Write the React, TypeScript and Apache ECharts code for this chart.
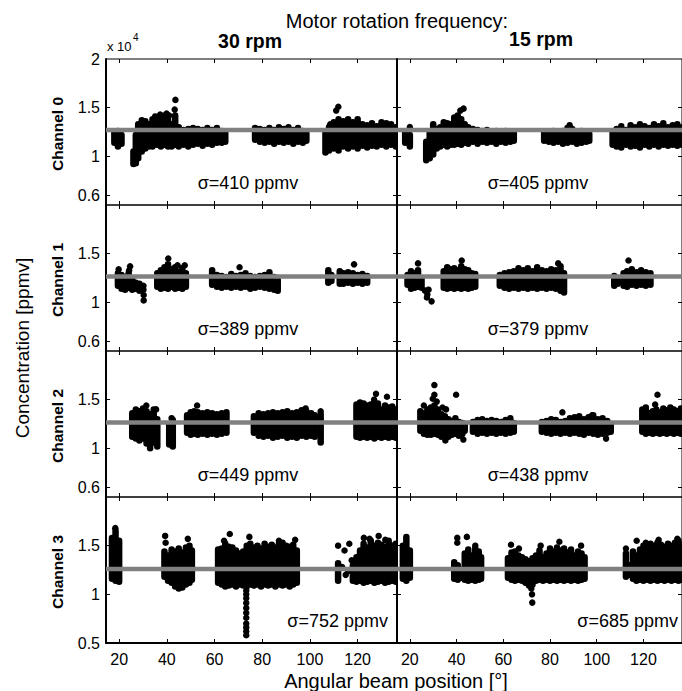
import React, { useEffect, useRef } from 'react';
import * as echarts from 'echarts';

// ---- axes ----
const X_MIN = 14.5;
const X_MAX = 136.5;
const Y_MIN = 0.5;
const Y_MAX = 2;
const X_TICKS = [20, 40, 60, 80, 100, 120];
const Y_LABELS_TOP = [0.6, 1, 1.5, 2];
const Y_LABELS_MID = [0.6, 1, 1.5];
const Y_LABELS_BOT = [0.5, 1, 1.5];
const Y_TICKS_MID = [0.6, 1, 1.5];
const Y_TICKS_BOT = [1, 1.5];

const CHANNELS = ['Channel 0', 'Channel 1', 'Channel 2', 'Channel 3'];
const SPEEDS = ['30 rpm', '15 rpm'];
const MEAN = [1.27, 1.265, 1.265, 1.26]; // x 10^4 ppmv
const SIGMA_30 = [410, 389, 449, 752];
const SIGMA_15 = [405, 379, 438, 685];

// ---- data: [angle, min conc., max conc.] spans of the dense point clouds, x 10^4 ppmv ----
const CH0_30_BANDS = [
  [18, 1.14, 1.25], [19.5, 1.1, 1.26], [21, 1.13, 1.22],
  [26, 0.92, 1.05], [27, 0.93, 1.22], [28, 0.98, 1.33], [29.5, 1.05, 1.37], [31, 1.08, 1.36], [32.5, 1.1, 1.33],
  [34, 1.1, 1.38], [36, 1.12, 1.36], [37.5, 1.1, 1.4], [39, 1.12, 1.42], [40.5, 1.1, 1.38], [42, 1.1, 1.33],
  [43.5, 1.12, 1.42], [45, 1.1, 1.3], [47, 1.12, 1.27], [49, 1.1, 1.28], [51, 1.12, 1.29], [53, 1.13, 1.28],
  [55, 1.11, 1.27], [57, 1.13, 1.29], [59, 1.12, 1.27], [61, 1.14, 1.29], [63, 1.14, 1.26], [64.5, 1.15, 1.24],
  [77, 1.17, 1.29], [79, 1.15, 1.28], [81, 1.14, 1.27], [83, 1.15, 1.29], [85, 1.13, 1.27], [87, 1.15, 1.3],
  [89, 1.14, 1.28], [91, 1.15, 1.3], [93, 1.13, 1.27], [95, 1.15, 1.29], [97, 1.14, 1.26], [98.5, 1.16, 1.24],
  [106.5, 1.04, 1.25], [108, 1.06, 1.3], [110, 1.08, 1.35], [112, 1.06, 1.38], [114, 1.1, 1.36], [116, 1.08, 1.38],
  [118, 1.1, 1.35], [120, 1.08, 1.38], [122, 1.11, 1.33], [124, 1.09, 1.32], [126, 1.11, 1.34], [128, 1.1, 1.31],
  [130, 1.12, 1.35], [132, 1.1, 1.34], [134, 1.12, 1.33], [136, 1.1, 1.3],
];
const CH0_30_PTS = [
  [43.6, 1.58], [43.3, 1.48], [37.2, 1.43], [41, 1.42], [35.1, 1.41], [39.9, 1.44],
  [111.9, 1.51], [111, 1.47], [108.5, 1.33],
];

const CH0_15_BANDS = [
  [18, 1.14, 1.25], [20, 1.1, 1.22],
  [27, 0.96, 1.15], [28.5, 0.98, 1.24], [30, 1.02, 1.33], [31.5, 1.08, 1.28], [33, 1.1, 1.3], [34.5, 1.12, 1.35],
  [36, 1.1, 1.34], [37.5, 1.12, 1.33], [39, 1.12, 1.4], [40.5, 1.13, 1.42], [42, 1.12, 1.38], [43.5, 1.14, 1.33],
  [45, 1.13, 1.3], [47, 1.15, 1.28], [49, 1.13, 1.27], [51, 1.15, 1.26], [53, 1.14, 1.27], [55, 1.15, 1.25],
  [57, 1.13, 1.26], [59, 1.15, 1.25], [61, 1.14, 1.26], [63, 1.15, 1.25], [64.5, 1.16, 1.24],
  [77.5, 1.16, 1.25], [79.5, 1.15, 1.24], [81.5, 1.14, 1.26], [83.5, 1.15, 1.25], [85.5, 1.13, 1.26],
  [87.5, 1.14, 1.29], [89.5, 1.15, 1.28], [91.5, 1.13, 1.25], [93.5, 1.14, 1.26], [95.5, 1.15, 1.24], [96.8, 1.16, 1.23],
  [106.8, 1.12, 1.25], [108.5, 1.1, 1.28], [110.5, 1.09, 1.31], [112.5, 1.12, 1.27], [114.5, 1.1, 1.32],
  [116.5, 1.11, 1.3], [118.5, 1.09, 1.33], [120.5, 1.12, 1.31], [122.5, 1.1, 1.29], [124.5, 1.12, 1.33],
  [126.5, 1.1, 1.31], [128.5, 1.12, 1.34], [130.5, 1.11, 1.3], [132.5, 1.12, 1.32], [134.5, 1.11, 1.33], [136.5, 1.12, 1.3],
];
const CH0_15_PTS = [[20, 1.3], [43, 1.49], [41.6, 1.47], [88.4, 1.32]];

const CH1_30_BANDS = [
  [19.5, 1.17, 1.3], [21, 1.14, 1.28], [22.5, 1.13, 1.26], [24, 1.15, 1.3], [25.5, 1.13, 1.24], [27, 1.14, 1.2], [28.5, 1.12, 1.19],
  [36, 1.16, 1.3], [37.5, 1.14, 1.33], [39, 1.15, 1.36], [40.5, 1.14, 1.39], [42, 1.16, 1.34], [43.5, 1.14, 1.36],
  [45, 1.15, 1.31], [46.5, 1.14, 1.35], [48, 1.16, 1.3],
  [59, 1.18, 1.33], [61, 1.16, 1.28], [63, 1.15, 1.27], [65, 1.16, 1.26], [67, 1.15, 1.29], [69, 1.16, 1.27],
  [71, 1.15, 1.28], [73, 1.16, 1.3], [75, 1.14, 1.27], [77, 1.15, 1.26], [79, 1.16, 1.27], [81, 1.15, 1.28],
  [83, 1.14, 1.31], [85, 1.13, 1.26], [86.5, 1.12, 1.23],
  [107.7, 1.2, 1.33], [109, 1.22, 1.28], [112.5, 1.19, 1.32], [114, 1.19, 1.3], [116, 1.2, 1.31], [118, 1.19, 1.3],
  [120, 1.2, 1.28], [122, 1.19, 1.29], [124, 1.2, 1.27],
];
const CH1_30_PTS = [
  [19.8, 1.34], [24.6, 1.37], [24.2, 1.33], [30.2, 1.17], [30.2, 1.13], [30.3, 1.075], [30.3, 1.02],
  [40.6, 1.45], [44.5, 1.38], [47.5, 1.38], [70.5, 1.36], [118.5, 1.39],
];

const CH1_15_BANDS = [
  [19, 1.18, 1.28], [20.5, 1.14, 1.32], [22, 1.15, 1.3], [23.5, 1.16, 1.33], [25, 1.15, 1.24],
  [34.5, 1.15, 1.32], [36, 1.14, 1.36], [37.5, 1.15, 1.34], [39, 1.14, 1.35], [40.5, 1.15, 1.33], [42, 1.14, 1.37],
  [43.5, 1.15, 1.34], [45, 1.14, 1.33], [46.5, 1.15, 1.3], [48, 1.16, 1.29],
  [58.5, 1.17, 1.28], [60.5, 1.15, 1.3], [62.5, 1.14, 1.31], [64.5, 1.15, 1.32], [66.5, 1.14, 1.35], [68.5, 1.15, 1.33],
  [70.5, 1.14, 1.35], [72.5, 1.15, 1.32], [74.5, 1.14, 1.36], [76.5, 1.15, 1.33], [78.5, 1.14, 1.32], [80.5, 1.15, 1.34],
  [82.5, 1.14, 1.33], [84.5, 1.12, 1.37], [86, 1.1, 1.3],
  [107.5, 1.17, 1.27], [109, 1.19, 1.23], [111.5, 1.17, 1.3], [113, 1.16, 1.32], [115, 1.18, 1.34], [117, 1.17, 1.31],
  [119, 1.18, 1.33], [121, 1.17, 1.31], [123, 1.18, 1.3],
];
const CH1_15_PTS = [
  [23.5, 1.4], [26.5, 1.12], [27.5, 1.08], [28, 1.13], [29.3, 1.01], [27.3, 1.05],
  [42.2, 1.43], [83.5, 1.4], [113.6, 1.43],
];

const CH2_30_BANDS = [
  [25.5, 1.12, 1.36], [27, 1.1, 1.4], [28.5, 1.08, 1.38], [30, 1.1, 1.41], [31.5, 1.05, 1.38], [33, 1.0, 1.35],
  [34.5, 1.06, 1.4], [36, 1.02, 1.3],
  [41, 1.04, 1.25], [42.5, 1.02, 1.29],
  [48.5, 1.16, 1.34], [50, 1.14, 1.37], [51.5, 1.15, 1.38], [53, 1.14, 1.37], [55, 1.15, 1.36], [57, 1.14, 1.37],
  [59, 1.15, 1.36], [61, 1.14, 1.35], [63, 1.15, 1.36], [65, 1.16, 1.37],
  [76.5, 1.16, 1.33], [78.5, 1.13, 1.36], [80.5, 1.12, 1.35], [82.5, 1.13, 1.36], [84.5, 1.11, 1.37], [86.5, 1.12, 1.36],
  [88.5, 1.13, 1.37], [90.5, 1.11, 1.38], [92.5, 1.12, 1.36], [94.5, 1.11, 1.37], [96.5, 1.13, 1.39], [98.5, 1.12, 1.38],
  [100.5, 1.13, 1.36], [102, 1.12, 1.34], [104.5, 1.06, 1.35],
  [119.5, 1.12, 1.45], [121, 1.11, 1.47], [122.5, 1.12, 1.46], [124, 1.11, 1.44], [125.5, 1.12, 1.45], [127, 1.1, 1.47],
  [128.5, 1.12, 1.46], [130, 1.11, 1.4], [131.5, 1.12, 1.44], [133, 1.11, 1.42], [134.5, 1.12, 1.43], [136, 1.11, 1.4],
];
const CH2_30_PTS = [
  [31.4, 1.44], [35.5, 1.4], [42, 1.31], [52.7, 1.44], [98.2, 1.41], [104.5, 1.38],
  [127.7, 1.56], [132.3, 1.53], [126.9, 1.5],
];

const CH2_15_BANDS = [
  [24.5, 1.18, 1.38], [26, 1.15, 1.36], [27.5, 1.14, 1.4], [29, 1.14, 1.42], [30.5, 1.15, 1.44], [32, 1.14, 1.4],
  [33.5, 1.12, 1.35], [35, 1.13, 1.33], [36.5, 1.12, 1.3], [38, 1.14, 1.28], [39.5, 1.15, 1.31], [41, 1.13, 1.27],
  [42.5, 1.15, 1.26], [43.5, 1.18, 1.24],
  [47, 1.17, 1.27], [49, 1.15, 1.29], [51, 1.16, 1.3], [53, 1.15, 1.28], [55, 1.16, 1.29], [57, 1.15, 1.28],
  [59, 1.16, 1.27], [61, 1.15, 1.29], [63, 1.16, 1.31], [64.5, 1.17, 1.26],
  [76.5, 1.17, 1.27], [78.5, 1.16, 1.28], [80.5, 1.15, 1.3], [82.5, 1.16, 1.29], [84.5, 1.15, 1.27], [86.5, 1.16, 1.28],
  [88.5, 1.15, 1.31], [90.5, 1.16, 1.32], [92.5, 1.15, 1.33], [94.5, 1.14, 1.3], [96.5, 1.16, 1.32], [98.5, 1.15, 1.34],
  [100.5, 1.14, 1.3], [102.5, 1.15, 1.31], [104.5, 1.16, 1.28], [106, 1.17, 1.25],
  [119.5, 1.17, 1.4], [121, 1.15, 1.42], [122.5, 1.16, 1.36], [124, 1.15, 1.38], [125.5, 1.16, 1.4], [127, 1.15, 1.37],
  [128.5, 1.16, 1.41], [130, 1.15, 1.39], [131.5, 1.16, 1.42], [133, 1.15, 1.4], [134.5, 1.16, 1.38], [136, 1.15, 1.41],
];
const CH2_15_PTS = [
  [30.5, 1.65], [30.5, 1.55], [39.8, 1.55], [29.8, 1.51], [31.5, 1.48], [26, 1.44], [34, 1.42], [35.5, 1.4],
  [35.2, 1.08], [42.9, 1.09], [36, 1.12], [85.3, 1.37], [98, 1.34], [104, 1.1], [126, 1.55], [125, 1.45],
];

const CH3_30_BANDS = [
  [17, 1.16, 1.58], [18.5, 1.14, 1.65], [20, 1.13, 1.55],
  [39, 1.18, 1.44], [40.5, 1.14, 1.4], [42, 1.12, 1.46], [43.5, 1.08, 1.44], [45, 1.06, 1.47], [46.5, 1.07, 1.43],
  [48, 1.1, 1.48], [49.5, 1.12, 1.5], [50.5, 1.15, 1.45],
  [61.5, 1.12, 1.46], [63, 1.1, 1.47], [64.5, 1.08, 1.52], [66, 1.09, 1.49], [67.5, 1.1, 1.48], [69, 1.08, 1.45],
  [70.5, 1.1, 1.42], [72, 1.09, 1.44], [73.5, 1.08, 1.5], [75, 1.1, 1.52], [76.5, 1.09, 1.48], [78, 1.1, 1.5],
  [79.5, 1.08, 1.47], [81, 1.1, 1.52], [82.5, 1.09, 1.49], [84, 1.1, 1.51], [85.5, 1.08, 1.48], [87, 1.1, 1.52],
  [88.5, 1.09, 1.53], [90, 1.1, 1.5], [91.5, 1.08, 1.49], [93, 1.1, 1.51], [94.5, 1.12, 1.45],
  [111.8, 1.14, 1.32], [118, 1.14, 1.3], [119.5, 1.13, 1.38], [121, 1.14, 1.45], [122.5, 1.12, 1.52], [124, 1.13, 1.48],
  [125.5, 1.14, 1.55], [127, 1.12, 1.5], [128.5, 1.13, 1.53], [130, 1.14, 1.51], [131.5, 1.12, 1.49], [133, 1.13, 1.55],
  [134.5, 1.14, 1.5], [136, 1.13, 1.52],
];
const CH3_30_PTS = [
  [18.4, 1.68], [39.3, 1.6], [39.5, 1.53], [48.8, 1.57], [64, 1.55], [66.4, 1.62], [74.6, 1.59], [87, 1.55], [93.8, 1.56],
  [73.3, 1.04], [73.3, 1.0], [73.3, 0.96], [73.3, 0.91], [73.3, 0.86], [73.3, 0.81], [73.3, 0.76], [73.3, 0.7],
  [73.3, 0.66], [73.3, 0.62], [73.3, 0.58],
  [111.8, 1.5], [113.5, 1.28], [114.5, 1.45], [115, 1.2], [116.5, 1.52], [117.5, 1.35], [116, 1.24],
  [122.6, 1.58], [125, 1.57], [128.8, 1.6], [131.6, 1.56],
];

const CH3_15_BANDS = [
  [17, 1.16, 1.5], [18.5, 1.14, 1.59], [20, 1.17, 1.45],
  [39, 1.16, 1.33], [40.5, 1.15, 1.3], [42, 1.17, 1.25], [43.5, 1.15, 1.42], [45, 1.14, 1.46], [46.5, 1.15, 1.4],
  [48, 1.14, 1.47], [49.5, 1.15, 1.44], [50.5, 1.16, 1.38],
  [62, 1.17, 1.37], [63.5, 1.15, 1.43], [65, 1.14, 1.44], [66.5, 1.15, 1.4], [68, 1.14, 1.38], [69.5, 1.12, 1.36],
  [71, 1.09, 1.34], [72.5, 1.1, 1.37], [74, 1.14, 1.4], [75.5, 1.15, 1.45], [77, 1.14, 1.38], [78.5, 1.15, 1.42],
  [80, 1.14, 1.47], [81.5, 1.15, 1.44], [83, 1.14, 1.48], [84.5, 1.15, 1.45], [86, 1.14, 1.47], [87.5, 1.15, 1.43],
  [89, 1.14, 1.46], [90.5, 1.15, 1.4], [92, 1.14, 1.44], [93.5, 1.15, 1.42], [94.8, 1.16, 1.38],
  [112.5, 1.18, 1.42], [114, 1.2, 1.3], [115.5, 1.16, 1.44], [117, 1.14, 1.4], [118.5, 1.15, 1.46], [120, 1.14, 1.5],
  [121.5, 1.15, 1.48], [123, 1.14, 1.52], [124.5, 1.15, 1.5], [126, 1.14, 1.53], [127.5, 1.15, 1.51], [129, 1.14, 1.49],
  [130.5, 1.15, 1.52], [132, 1.14, 1.5], [133.5, 1.15, 1.53], [135, 1.14, 1.55], [136.5, 1.15, 1.5],
];
const CH3_15_PTS = [
  [40.3, 1.58], [44.4, 1.59], [40.3, 1.53], [48, 1.5], [63.3, 1.51], [66.7, 1.47], [72, 1.06], [72.3, 1.0], [72.4, 0.915],
  [76, 1.5], [84, 1.54], [93.3, 1.5], [112.5, 1.47], [117.1, 1.55], [121, 1.53], [126.5, 1.56], [134.5, 1.57],
];

const PANELS = [
  [CH0_30_BANDS, CH0_30_PTS], [CH0_15_BANDS, CH0_15_PTS],
  [CH1_30_BANDS, CH1_30_PTS], [CH1_15_BANDS, CH1_15_PTS],
  [CH2_30_BANDS, CH2_30_PTS], [CH2_15_BANDS, CH2_15_PTS],
  [CH3_30_BANDS, CH3_30_PTS], [CH3_15_BANDS, CH3_15_PTS],
];

// ---- layout ----
const ROW_TOP = [59, 205, 351, 497];
const ROW_H = 146;
const COL_LEFT = [106, 397];
const COL_W = 291;
const DOT = 6.5;
const FONT = "'Liberation Sans', Arial, Helvetica, sans-serif";

function buildOption() {
  const grid: any[] = [];
  const xAxis: any[] = [];
  const yAxis: any[] = [];
  const series: any[] = [];
  const graphic: any[] = [];

  for (let r = 0; r < 4; r++) {
    for (let c = 0; c < 2; c++) {
      const i = r * 2 + c;
      grid.push({
        left: COL_LEFT[c], top: ROW_TOP[r], width: COL_W, height: ROW_H,
        show: true, borderColor: '#000', borderWidth: 1, backgroundColor: 'transparent',
      });
      const tickY = r === 3 ? Y_TICKS_BOT : Y_TICKS_MID;
      const labY = r === 0 ? Y_LABELS_TOP : r === 3 ? Y_LABELS_BOT : Y_LABELS_MID;
      xAxis.push({
        gridIndex: i, type: 'value', min: X_MIN, max: X_MAX, position: 'bottom',
        axisLine: { show: r === 3, lineStyle: { color: '#000', width: 2 } },
        axisTick: { show: true, inside: true, length: 4, customValues: X_TICKS, lineStyle: { color: '#000' } },
        axisLabel: {
          show: r === 3, customValues: X_TICKS, fontSize: 16, color: '#000', fontFamily: FONT, margin: 8,
        },
        splitLine: { show: false },
      });
      xAxis.push({
        gridIndex: i, type: 'value', min: X_MIN, max: X_MAX, position: 'top',
        axisLine: { show: false },
        axisTick: { show: true, inside: true, length: 4, customValues: X_TICKS, lineStyle: { color: '#000' } },
        axisLabel: { show: false },
        splitLine: { show: false },
      });
      yAxis.push({
        gridIndex: i, type: 'value', min: Y_MIN, max: Y_MAX, position: 'left',
        axisLine: { show: true, lineStyle: { color: '#000', width: 2 } },
        axisTick: { show: true, inside: true, length: 4, customValues: tickY, lineStyle: { color: '#000' } },
        axisLabel: {
          show: c === 0, customValues: labY, fontSize: 16, color: '#000', fontFamily: FONT, margin: 6,
          showMinLabel: true, showMaxLabel: true,
        },
        splitLine: { show: false },
      });
      yAxis.push({
        gridIndex: i, type: 'value', min: Y_MIN, max: Y_MAX, position: 'right',
        axisLine: { show: false },
        axisTick: { show: true, inside: true, length: 4, customValues: tickY, lineStyle: { color: '#000' } },
        axisLabel: { show: false },
        splitLine: { show: false },
      });

      const [bands, pts] = PANELS[i];
      series.push({
        type: 'custom', xAxisIndex: i * 2, yAxisIndex: i * 2, data: bands, clip: true,
        encode: { x: 0, y: [1, 2] },
        renderItem: (_p: any, api: any) => {
          const x = api.value(0);
          const top = api.coord([x, api.value(2)]);
          const bot = api.coord([x, api.value(1)]);
          return {
            type: 'rect',
            shape: { x: top[0] - DOT / 2, y: top[1] - DOT / 2, width: DOT, height: bot[1] - top[1] + DOT, r: DOT / 2 },
            style: { fill: '#000' },
          };
        },
        z: 2,
      });
      series.push({
        type: 'scatter', xAxisIndex: i * 2, yAxisIndex: i * 2, data: pts, symbol: 'circle',
        symbolSize: DOT, itemStyle: { color: '#000', opacity: 1 }, z: 3, clip: true,
      });
      series.push({
        type: 'line', xAxisIndex: i * 2, yAxisIndex: i * 2, symbol: 'none', silent: true,
        data: [[X_MIN, MEAN[r]], [X_MAX, MEAN[r]]],
        lineStyle: { color: '#808080', width: 4.5 }, z: 4,
      });

      const sig = c === 0 ? SIGMA_30[r] : SIGMA_15[r];
      const sigText = `σ=${sig} ppmv`;
      if (r < 3) {
        graphic.push({
          type: 'text', x: COL_LEFT[c] + 142 - (c === 1 ? 1 : 0), y: ROW_TOP[r] + 124,
          style: { text: sigText, font: `18px ${FONT}`, fill: '#000', align: 'center', verticalAlign: 'middle' },
        });
      } else {
        graphic.push({
          type: 'text', x: c === 0 ? 388 : 678, y: ROW_TOP[r] + 124,
          style: { text: sigText, font: `18px ${FONT}`, fill: '#000', align: 'right', verticalAlign: 'middle' },
        });
      }
    }
    graphic.push({
      type: 'text', x: 57, y: ROW_TOP[r] + ROW_H / 2 + 2, rotation: Math.PI / 2,
      style: { text: CHANNELS[r], font: `bold 15.5px ${FONT}`, fill: '#000', align: 'center', verticalAlign: 'middle' },
    });
  }

  graphic.push(
    { type: 'text', x: 397, y: 21, style: { text: 'Motor rotation frequency:', font: `20px ${FONT}`, fill: '#000', align: 'center', verticalAlign: 'middle' } },
    { type: 'text', x: 250, y: 41, style: { text: SPEEDS[0], font: `bold 19.5px ${FONT}`, fill: '#000', align: 'center', verticalAlign: 'middle' } },
    { type: 'text', x: 541, y: 39, style: { text: SPEEDS[1], font: `bold 19.5px ${FONT}`, fill: '#000', align: 'center', verticalAlign: 'middle' } },
    { type: 'text', x: 107, y: 46, style: { text: 'x 10', font: `13px ${FONT}`, fill: '#000', align: 'left', verticalAlign: 'middle' } },
    { type: 'text', x: 133, y: 37, style: { text: '4', font: `10px ${FONT}`, fill: '#000', align: 'left', verticalAlign: 'middle' } },
    { type: 'text', x: 22, y: 348, rotation: Math.PI / 2, style: { text: 'Concentration [ppmv]', font: `19px ${FONT}`, fill: '#000', align: 'center', verticalAlign: 'middle' } },
    { type: 'text', x: 396, y: 681, style: { text: 'Angular beam position [°]', font: `20px ${FONT}`, fill: '#000', align: 'center', verticalAlign: 'middle' } },
  );

  return {
    animation: false,
    backgroundColor: '#fff',
    grid, xAxis, yAxis, series, graphic,
  };
}

export default function App() {
  const ref = useRef<HTMLDivElement>(null);
  useEffect(() => {
    if (!ref.current) return;
    const chart = echarts.init(ref.current, null, { renderer: 'svg' });
    chart.setOption(buildOption() as any);
    return () => chart.dispose();
  }, []);
  return (
    <div
      ref={ref}
      style={{ position: 'absolute', left: 0, top: 0, width: 682, height: 691, overflow: 'hidden', background: '#fff' }}
    />
  );
}
